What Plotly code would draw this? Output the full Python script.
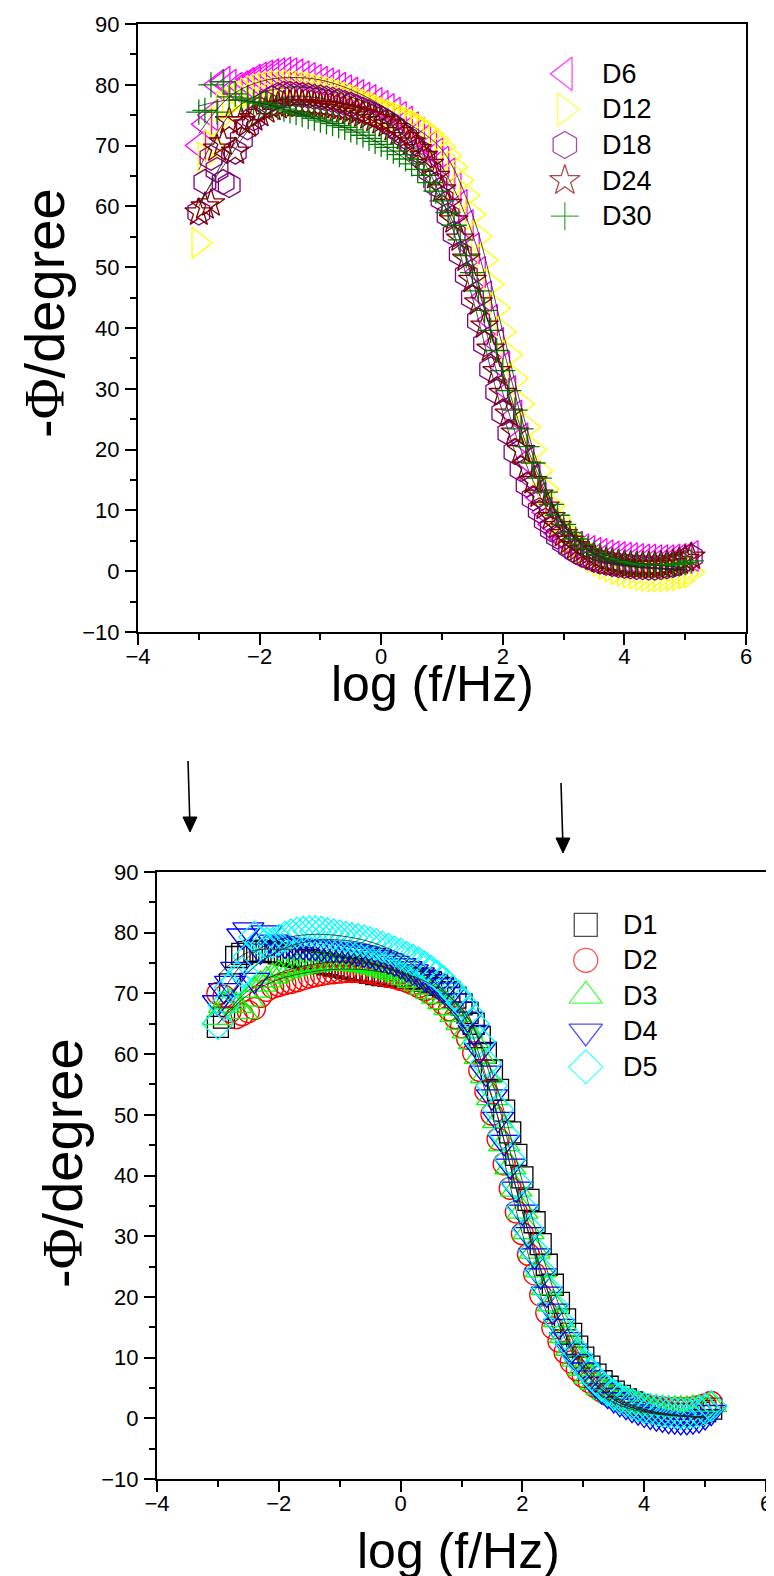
import plotly.graph_objects as go

# ---------------- data ----------------
# log(f/Hz), 10 points per decade, shared by every series
log_f = [-3.0, -2.9, -2.8, -2.7, -2.6, -2.5, -2.4, -2.3, -2.2, -2.1,
         -2.0, -1.9, -1.8, -1.7, -1.6, -1.5, -1.4, -1.3, -1.2, -1.1,
         -1.0, -0.9, -0.8, -0.7, -0.6, -0.5, -0.4, -0.3, -0.2, -0.1,
         0.0, 0.1, 0.2, 0.3, 0.4, 0.5, 0.6, 0.7, 0.8, 0.9,
         1.0, 1.1, 1.2, 1.3, 1.4, 1.5, 1.6, 1.7, 1.8, 1.9,
         2.0, 2.1, 2.2, 2.3, 2.4, 2.5, 2.6, 2.7, 2.8, 2.9,
         3.0, 3.1, 3.2, 3.3, 3.4, 3.5, 3.6, 3.7, 3.8, 3.9,
         4.0, 4.1, 4.2, 4.3, 4.4, 4.5, 4.6, 4.7, 4.8, 4.9,
         5.0, 5.1]

# top panel: -phase (degree)
D6 = [70.0, 73.5, 75.0, 80.0, 80.5, 80.0, 79.5, 79.8, 80.3, 80.8,
      81.2, 81.5, 81.7, 81.9, 82.0, 81.9, 81.7, 81.4, 81.1, 80.8,
      80.5, 80.2, 79.9, 79.5, 79.1, 78.7, 78.3, 77.9, 77.5, 77.0,
      76.5, 76.0, 75.4, 74.7, 73.9, 73.0, 72.0, 71.0, 69.9, 68.7,
      67.4, 65.4, 63.0, 60.2, 56.9, 53.1, 49.2, 45.2, 41.3, 37.5,
      33.6, 29.6, 25.6, 21.8, 18.2, 15.0, 12.1, 9.7, 7.7, 6.2,
      5.2, 4.5, 4.0, 3.6, 3.3, 3.0, 2.8, 2.6, 2.4, 2.3,
      2.2, 2.1, 2.0, 1.9, 1.9, 1.8, 1.8, 1.8, 1.9, 2.0,
      2.2, 2.5]
D12 = [54.0, 68.0, 70.0, 74.0, 76.5, 77.0, 77.5, 78.2, 78.6, 79.0,
       79.3, 79.5, 79.7, 79.8, 79.9, 79.9, 79.8, 79.7, 79.6, 79.4,
       79.2, 79.0, 78.8, 78.5, 78.2, 77.9, 77.5, 77.1, 76.7, 76.3,
       75.8, 75.4, 75.0, 74.6, 74.2, 73.8, 73.3, 72.7, 72.0, 71.0,
       69.8, 68.3, 66.5, 64.3, 61.8, 58.7, 55.1, 51.2, 47.2, 43.3,
       39.4, 35.6, 31.7, 27.5, 23.7, 20.0, 16.5, 13.5, 10.8, 8.6,
       6.8, 5.5, 4.5, 3.7, 3.0, 2.3, 1.7, 1.2, 0.8, 0.4,
       0.1, -0.2, -0.4, -0.6, -0.7, -0.8, -0.8, -0.8, -0.7, -0.6,
       -0.4, -0.2]
D18 = [59.0, 64.0, 68.0, 66.0, 64.0, 63.5, 69.0, 71.0, 73.0, 74.5,
       76.0, 77.0, 77.8, 78.3, 78.5, 78.5, 78.4, 78.3, 78.2, 78.0,
       77.9, 77.7, 77.5, 77.3, 77.0, 76.7, 76.3, 75.9, 75.5, 75.0,
       74.5, 73.9, 73.2, 72.4, 71.4, 70.3, 69.2, 67.8, 65.8, 63.6,
       61.2, 58.5, 55.5, 52.2, 48.7, 45.0, 41.2, 37.4, 33.2, 29.5,
       26.0, 22.7, 19.6, 16.8, 14.2, 12.0, 10.0, 8.3, 6.9, 5.7,
       4.7, 3.9, 3.2, 2.7, 2.3, 1.9, 1.6, 1.4, 1.2, 1.0,
       0.9, 0.8, 0.7, 0.7, 0.6, 0.6, 0.7, 0.8, 1.0, 1.3,
       1.8, 2.4]
D24 = [59.0, 60.0, 60.5, 69.5, 70.5, 74.0, 69.0, 74.0, 73.5, 74.5,
       75.2, 75.8, 76.2, 76.5, 76.7, 76.8, 76.8, 76.8, 76.7, 76.6,
       76.5, 76.4, 76.2, 76.0, 75.8, 75.6, 75.4, 75.1, 74.8, 74.4,
       74.0, 73.5, 72.9, 72.2, 71.4, 70.5, 69.4, 68.3, 67.0, 65.0,
       62.8, 60.4, 57.7, 54.7, 51.4, 47.9, 44.2, 40.4, 36.6, 32.9,
       29.3, 25.9, 22.8, 19.9, 17.2, 14.8, 12.6, 10.6, 8.9, 7.4,
       6.1, 5.0, 4.1, 3.4, 2.8, 2.3, 1.9, 1.6, 1.4, 1.2,
       1.1, 1.0, 0.9, 0.9, 0.9, 0.9, 1.0, 1.1, 1.3, 1.6,
       2.0, 2.4]
D30 = [75.5, 75.8, 80.0, 75.5, 80.5, 78.0, 78.5, 77.5, 77.8, 77.2,
       77.0, 76.8, 76.5, 76.3, 76.0, 75.7, 75.4, 75.1, 74.8, 74.5,
       74.2, 73.9, 73.6, 73.3, 73.0, 72.6, 72.2, 71.7, 71.2, 70.7,
       70.2, 69.7, 69.1, 68.5, 67.8, 67.0, 66.1, 65.1, 63.9, 62.5,
       60.9, 59.0, 56.9, 54.5, 51.9, 49.1, 46.1, 42.9, 39.6, 36.3,
       33.0, 29.7, 26.5, 23.4, 20.5, 17.8, 15.3, 13.0, 11.0, 9.2,
       7.7, 6.4, 5.3, 4.4, 3.7, 3.1, 2.6, 2.2, 1.9, 1.6,
       1.4, 1.3, 1.2, 1.1, 1.0, 1.0, 1.0, 1.0, 1.1, 1.2,
       1.4, 1.7]

# bottom panel
D1 = [64.5, 66.0, 71.5, 76.0, 76.5, 76.8, 77.0, 77.0, 76.9, 76.8,
      76.6, 76.4, 76.2, 76.0, 75.8, 75.5, 75.3, 75.0, 74.8, 74.6,
      74.4, 74.2, 74.0, 73.8, 73.6, 73.4, 73.2, 73.0, 72.9, 72.8,
      72.7, 72.6, 72.5, 72.3, 72.1, 71.8, 71.4, 70.9, 70.2, 69.3,
      68.2, 66.8, 65.0, 62.8, 60.2, 57.3, 54.1, 50.7, 47.1, 43.4,
      39.7, 36.0, 32.3, 28.7, 25.3, 22.0, 19.0, 16.3, 13.9, 11.8,
      10.0, 8.5, 7.2, 6.1, 5.2, 4.4, 3.7, 3.1, 2.6, 2.2,
      1.8, 1.5, 1.2, 1.0, 0.8, 0.7, 0.6, 0.6, 0.7, 0.9,
      1.2, 1.6]
D2 = [70.0, 69.5, 67.0, 66.0, 66.5, 67.0, 67.5, 69.5, 70.5, 71.0,
      71.3, 71.6, 71.8, 72.1, 72.4, 72.7, 72.9, 73.1, 73.3, 73.4,
      73.5, 73.6, 73.6, 73.6, 73.5, 73.4, 73.2, 73.0, 72.8, 72.6,
      72.3, 72.0, 71.6, 71.1, 70.6, 70.0, 69.2, 68.3, 67.3, 66.0,
      64.5, 62.6, 60.2, 57.3, 53.9, 50.1, 46.0, 41.9, 37.9, 34.0,
      30.4, 27.0, 23.8, 20.3, 17.4, 14.9, 12.7, 10.9, 9.3, 8.0,
      6.9, 6.0, 5.2, 4.5, 3.9, 3.4, 3.0, 2.7, 2.4, 2.2,
      2.0, 1.9, 1.8, 1.7, 1.6, 1.6, 1.6, 1.6, 1.7, 1.9,
      2.2, 2.6]
D3 = [66.0, 68.0, 68.6, 68.0, 67.0, 69.0, 70.5, 71.5, 72.2, 72.8,
      73.3, 73.7, 74.0, 74.3, 74.5, 74.7, 74.8, 74.9, 75.0, 75.0,
      75.0, 75.0, 74.9, 74.8, 74.7, 74.5, 74.3, 74.0, 73.7, 73.4,
      73.0, 72.6, 72.1, 71.6, 71.0, 70.3, 69.5, 68.6, 67.6, 66.5,
      65.2, 63.8, 62.0, 59.6, 56.4, 52.8, 49.0, 45.2, 41.4, 37.7,
      34.1, 30.7, 27.5, 24.4, 21.5, 18.8, 16.2, 13.6, 11.5, 9.7,
      8.2, 6.9, 5.9, 5.0, 4.3, 3.7, 3.2, 2.8, 2.5, 2.2,
      2.0, 1.8, 1.7, 1.6, 1.5, 1.5, 1.5, 1.5, 1.6, 1.7,
      1.9, 2.2]
D4 = [68.5, 70.5, 71.7, 74.0, 79.5, 80.5, 72.2, 77.0, 80.0, 78.5,
      78.2, 78.0, 77.9, 77.8, 77.8, 77.7, 77.6, 77.5, 77.4, 77.3,
      77.2, 77.1, 76.9, 76.7, 76.5, 76.3, 76.0, 75.7, 75.4, 75.0,
      74.6, 74.1, 73.6, 73.1, 72.5, 71.9, 71.3, 70.6, 69.8, 68.8,
      67.5, 65.8, 63.6, 60.6, 56.9, 53.0, 49.3, 45.5, 41.6, 37.8,
      34.0, 30.3, 26.8, 23.5, 20.5, 17.7, 15.2, 13.0, 11.1, 9.4,
      8.0, 6.7, 5.6, 4.6, 3.8, 3.1, 2.5, 2.0, 1.5, 1.1,
      0.7, 0.4, 0.1, -0.1, -0.3, -0.4, -0.5, -0.5, -0.4, -0.2,
      0.3, 1.0]
D5 = [65.0, 68.0, 71.0, 72.0, 73.5, 76.0, 79.3, 78.5, 78.3, 78.3,
      78.8, 79.3, 79.7, 80.0, 80.1, 80.2, 80.2, 80.1, 79.9, 79.7,
      79.5, 79.3, 79.1, 78.9, 78.7, 78.4, 78.1, 77.7, 77.3, 76.9,
      76.5, 76.0, 75.5, 75.0, 74.4, 73.7, 72.9, 72.0, 71.0, 69.8,
      68.5, 66.9, 65.0, 62.0, 58.5, 54.8, 50.9, 46.8, 42.7, 38.7,
      34.8, 31.1, 27.6, 24.3, 21.3, 18.6, 16.1, 13.9, 12.0, 10.3,
      8.8, 7.5, 6.4, 5.4, 4.6, 3.9, 3.3, 2.8, 2.4, 2.0,
      1.7, 1.5, 1.3, 1.1, 1.0, 0.9, 0.8, 0.8, 0.9, 1.1,
      1.5, 2.0]

# fitted curves (thin black lines), half-decade steps
log_f_fit = [-3.0, -2.5, -2.0, -1.5, -1.0, -0.5, 0.0, 0.5, 1.0,
             1.5, 2.0, 2.5, 3.0, 3.5, 4.0, 4.5, 5.0]
fit_D6 = [72.0, 78.0, 80.5, 81.2, 80.8, 79.2, 76.6, 72.8, 66.5, 55.5, 36.9, 19.0, 8.0, 3.5, 1.8, 1.0, 0.6]
fit_D12 = [66.0, 75.0, 78.5, 79.6, 79.3, 78.0, 76.0, 73.3, 69.3, 58.7, 39.4, 20.0, 7.5, 2.8, 1.0, 0.4, 0.2]
fit_D18 = [60.0, 69.0, 75.5, 78.0, 77.8, 76.6, 74.5, 70.3, 61.2, 45.0, 26.0, 12.0, 4.7, 1.9, 0.9, 0.5, 0.3]
fit_D24 = [60.5, 68.0, 74.5, 76.6, 76.5, 75.5, 74.0, 70.5, 62.8, 47.9, 29.3, 14.8, 6.1, 2.3, 1.0, 0.5, 0.3]
fit_D30 = [76.5, 77.5, 77.0, 75.7, 74.2, 72.6, 70.2, 67.0, 60.9, 49.1, 33.0, 17.8, 7.7, 3.0, 1.2, 0.6, 0.3]

fit_D1 = [73.0, 76.8, 77.3, 77.0, 76.2, 75.0, 73.5, 71.5, 67.5, 57.0, 39.0, 21.5, 9.5, 3.8, 1.5, 0.6, 0.2]
fit_D2 = [65.0, 69.8, 72.3, 73.5, 74.0, 73.8, 72.8, 70.0, 64.5, 50.1, 30.4, 14.9, 6.5, 2.6, 1.0, 0.4, 0.1]
fit_D3 = [65.0, 70.5, 73.3, 74.7, 75.2, 74.8, 73.4, 70.3, 65.2, 52.8, 34.1, 18.8, 8.2, 3.2, 1.2, 0.5, 0.2]
fit_D4 = [67.0, 73.5, 77.0, 78.6, 78.8, 78.0, 76.0, 72.3, 67.0, 53.0, 34.0, 17.7, 8.0, 3.1, 1.2, 0.5, 0.2]
fit_D5 = [69.0, 76.0, 78.8, 79.7, 79.5, 78.5, 76.5, 73.7, 68.5, 55.5, 35.8, 18.6, 8.8, 3.5, 1.4, 0.5, 0.2]

# ---------------- styles ----------------
W, H = 774, 1576
OFF = 8  # the page body adds an 8 px margin around the plot div
FONT = "Liberation Sans, Arial, sans-serif"

top_series = [
    ("D6", D6, fit_D6, "triangle-left-open", "#FF00FF", 27),
    ("D12", D12, fit_D12, "triangle-right-open", "#FFFF00", 27),
    ("D18", D18, fit_D18, "hexagon-open", "#800080", 25),
    ("D24", D24, fit_D24, "star-open", "#800000", 21),
    ("D30", D30, fit_D30, "cross-thin-open", "#008000", 18),
]
bottom_series = [
    ("D1", D1, fit_D1, "square-open", "#000000", 21),
    ("D2", D2, fit_D2, "circle-open", "#FF0000", 22),
    ("D3", D3, fit_D3, "triangle-up-open", "#00FF00", 27),
    ("D4", D4, fit_D4, "triangle-down-open", "#0000FF", 27),
    ("D5", D5, fit_D5, "diamond-open", "#00FFFF", 24),
]


def px_x(p):
    return (p - OFF) / W


def px_y(p):
    return 1 - (p - OFF) / H


fig = go.Figure()

# panels: (xaxis, yaxis, series, legend axes)
panels = [("x", "y", top_series, "x3", "y3"),
          ("x2", "y2", bottom_series, "x4", "y4")]

for xa, ya, series, lxa, lya in panels:
    for name, vals, fit, sym, col, size in series:
        fig.add_trace(go.Scatter(
            x=log_f, y=vals, mode="markers", name=name, showlegend=False,
            xaxis=xa, yaxis=ya,
            marker=dict(symbol=sym, size=size, color=col,
                        line=dict(color=col, width=1.3))))
    for name, vals, fit, sym, col, size in series:
        fig.add_trace(go.Scatter(
            x=log_f_fit, y=fit, mode="lines", showlegend=False,
            xaxis=xa, yaxis=ya, hoverinfo="skip",
            line=dict(color="#222222", width=0.8, shape="spline", smoothing=1.0)))

# hand-made legends (big symbols as in the original)
legend_pos = {"x3": (0.702, 0.918, 0.0585), "x4": (0.704, 0.913, 0.0585)}
annotations = []
for xa, ya, series, lxa, lya in panels:
    lx, ly0, ldy = legend_pos[lxa]
    ys = [ly0 - i * ldy for i in range(len(series))]
    fig.add_trace(go.Scatter(
        x=[lx] * len(series), y=ys, mode="markers", showlegend=False,
        xaxis=lxa, yaxis=lya, hoverinfo="skip",
        marker=dict(symbol=[s[3] for s in series], size=[s[5] + 2 for s in series],
                    color=[s[4] for s in series],
                    line=dict(color=[s[4] for s in series], width=1.3))))
    for (name, *_), yy in zip(series, ys):
        annotations.append(dict(x=lx + 0.058, y=yy, xref=lxa, yref=lya, text=name,
                                showarrow=False, xanchor="left", yanchor="middle",
                                font=dict(family=FONT, size=27, color="black")))

phi_title = '-<span style="font-family:Liberation Serif">Φ</span>/degree'
xt_font = dict(family=FONT, size=50, color="black")
yt_font = dict(family=FONT, size=56, color="black")
annotations += [
    dict(x=px_x(432), y=px_y(684), xref="paper", yref="paper", text="log (f/Hz)",
         showarrow=False, xanchor="center", yanchor="middle", font=xt_font),
    dict(x=px_x(459), y=px_y(1551), xref="paper", yref="paper", text="log (f/Hz)",
         showarrow=False, xanchor="center", yanchor="middle", font=xt_font),
    dict(x=px_x(44), y=px_y(313), xref="paper", yref="paper", text=phi_title,
         textangle=-90, showarrow=False, xanchor="center", yanchor="middle", font=yt_font),
    dict(x=px_x(62), y=px_y(1163), xref="paper", yref="paper", text=phi_title,
         textangle=-90, showarrow=False, xanchor="center", yanchor="middle", font=yt_font),
]

# the two arrows between the panels
shapes = []
for tail, tip in [((188, 761), (190, 832)), ((561, 783), (563, 853))]:
    base_y = tip[1] - 15
    shapes.append(dict(type="line", xref="paper", yref="paper",
                       x0=px_x(tail[0]), y0=px_y(tail[1]),
                       x1=px_x(tip[0] - 0.3), y1=px_y(base_y),
                       line=dict(color="black", width=1.6)))
    shapes.append(dict(type="path", xref="paper", yref="paper",
                       path="M %f,%f L %f,%f L %f,%f Z" % (
                           px_x(tip[0] - 7), px_y(base_y), px_x(tip[0] + 7), px_y(base_y),
                           px_x(tip[0]), px_y(tip[1])),
                       fillcolor="black", line=dict(color="black", width=1)))

axis_common = dict(showline=True, linecolor="black", linewidth=2, mirror=True,
                   ticks="outside", ticklen=11, tickwidth=2, tickcolor="black",
                   showgrid=False, zeroline=False, automargin=False,
                   tickfont=dict(family=FONT, size=22, color="black"))
xstyle = dict(axis_common, range=[-4, 6], tick0=-4, dtick=2, ticklabelstandoff=-7,
              minor=dict(dtick=1, ticks="outside", ticklen=6, tickwidth=2, tickcolor="black"))
ystyle = dict(axis_common, range=[-10, 90], tick0=-10, dtick=10, ticklabelstandoff=1,
              minor=dict(dtick=5, ticks="outside", ticklen=6, tickwidth=2, tickcolor="black"))

top_x = [px_x(138), px_x(746)]
top_y = [px_y(632), px_y(24)]
bot_x = [px_x(157), px_x(766)]
bot_y = [px_y(1479), px_y(872)]

hidden = dict(range=[0, 1], visible=False, automargin=False)

fig.update_layout(
    template="none",
    width=W, height=H, margin=dict(l=0, r=0, t=0, b=0, pad=0), autosize=False,
    paper_bgcolor="white", plot_bgcolor="white", showlegend=False,
    xaxis=dict(xstyle, domain=top_x, anchor="y"),
    yaxis=dict(ystyle, domain=top_y, anchor="x"),
    xaxis2=dict(xstyle, domain=bot_x, anchor="y2"),
    yaxis2=dict(ystyle, domain=bot_y, anchor="x2"),
    xaxis3=dict(hidden, domain=top_x, overlaying="x", anchor="y3"),
    yaxis3=dict(hidden, domain=top_y, overlaying="y", anchor="x3"),
    xaxis4=dict(hidden, domain=bot_x, overlaying="x2", anchor="y4"),
    yaxis4=dict(hidden, domain=bot_y, overlaying="y2", anchor="x4"),
    annotations=annotations, shapes=shapes,
)

fig.write_html("out.html")
